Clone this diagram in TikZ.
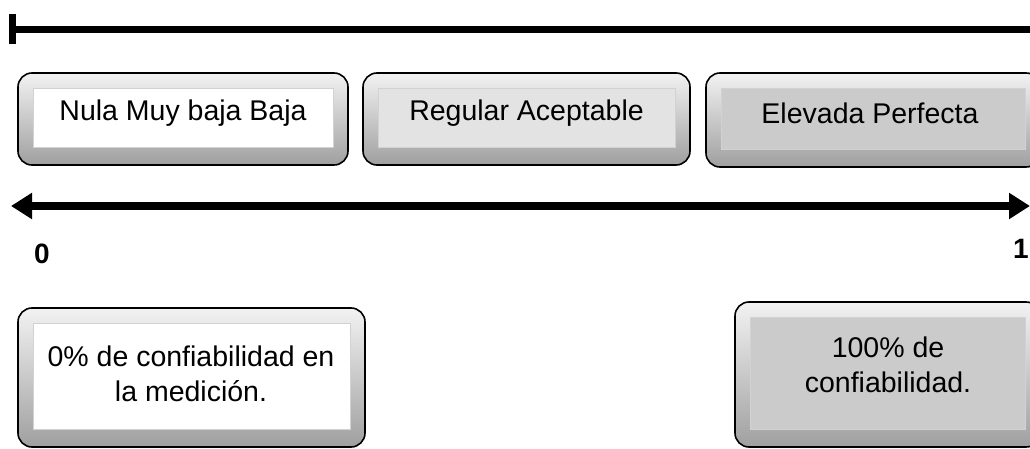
\documentclass[tikz,border=0pt]{standalone}
\usepackage{fontspec}
\setmainfont{Liberation Sans}
\usetikzlibrary{arrows.meta}
\definecolor{faceA}{HTML}{FFFFFF}
\definecolor{faceB}{HTML}{E3E3E3}
\definecolor{faceC}{HTML}{CBCBCB}
\tikzset{
  btn/.style={draw=black, line width=1.6pt, rounded corners=14pt,
    top color=gray!10, bottom color=gray!75, inner sep=0pt,
    path picture={
      \fill[#1, draw=gray!35, line width=0.8pt, sharp corners]
        ([shift={(15pt,-15pt)}]path picture bounding box.north west)
        rectangle ([shift={(-15pt,18pt)}]path picture bounding box.south east);
    }},
  lbl/.style={align=center, inner sep=0pt, font=\fontsize{28.5}{35.5}\selectfont},
  num/.style={inner sep=0pt, font=\fontsize{28}{32}\selectfont\bfseries},
  axis/.style={line width=7pt, draw=black}
}
\begin{document}
\begin{tikzpicture}[x=1pt,y=-1pt]
\useasboundingbox[fill=white] (0,0) rectangle (1030,449);
% top bar line
\coordinate (tl) at (9,29.5);
\coordinate (tr) at (1031,29.5);
\draw[axis, {Bar[width=30pt]}-] (tl) -- (tr);
% top row boxes
\node[btn=faceA, minimum width=330pt, minimum height=92pt] (b1) at (183,119) {};
\node[btn=faceB, minimum width=327pt, minimum height=92pt] (b2) at (526.5,119) {};
\node[btn=faceC, minimum width=334pt, minimum height=94pt] (b3) at (873,120) {};
\node[lbl] (t1) at (183,113) {Nula Muy baja Baja};
\node[lbl] (t2) at (526.5,113) {Regular Aceptable};
\node[lbl] (t3) at (870,113) {Elevada Perfecta};
% double arrow
\coordinate (al) at (11,206);
\coordinate (ar) at (1030,206);
\draw[axis, {Triangle[length=21pt,width=25pt]}-{Triangle[length=21pt,width=25pt]}] (al) -- (ar);
\node[num] (n0) at (42,254) {0};
\node[num] (n1) at (1021,249) {1};
% bottom boxes
\node[btn=faceA, minimum width=347pt, minimum height=139pt] (b4) at (191.5,377.5) {};
\node[btn=faceC, minimum width=305pt, minimum height=145pt] (b5) at (887.5,374.5) {};
\node[lbl] (t4) at (191,374) {0\% de confiabilidad en\\la medición.};
\node[lbl] (t5) at (888,365) {100\% de\\confiabilidad.};
\end{tikzpicture}
\end{document}
